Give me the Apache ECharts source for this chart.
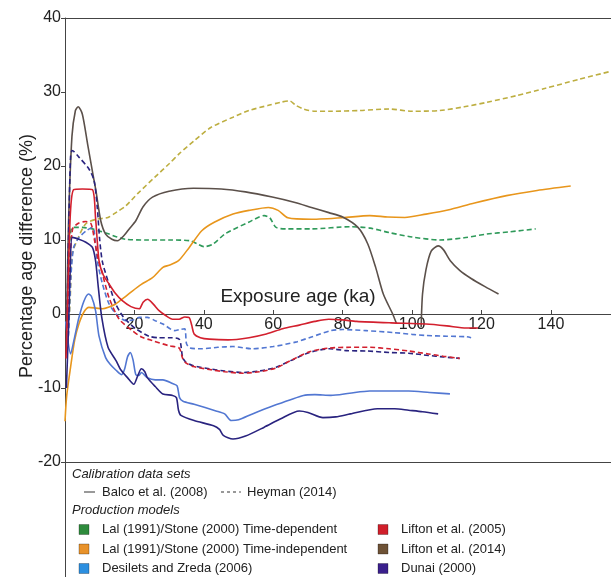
<!DOCTYPE html>
<html>
<head>
<meta charset="utf-8">
<script src="https://cdn.jsdelivr.net/npm/echarts@6/dist/echarts.min.js"></script>
<style>html,body{margin:0;padding:0;background:#fff}#c{width:611px;height:577px}</style>
</head>
<body>
<div id="c"></div>
<script>
// ---- data (x = exposure age ka, y = percentage age difference %) ----
var xTicks = [20, 40, 60, 80, 100, 120, 140];
var yTicks = [-20, -10, 0, 10, 20, 30, 40];

// Balco et al. (2008) - solid
var lifton2014Balco = [[0.4,-3],[1,12],[2,24],[3,27.5],[3.8,28],[5,27],[6.5,23],[8,19],[8.9,16.7],[10.3,12.6],[11.7,10.8],[13.5,10.1],[15.1,9.9],[17,10.6],[18.5,11.5],[20.4,12.6],[22.5,14.5],[25.2,15.8],[30,16.6],[37,17.0],[45,16.9],[52,16.5],[59.7,15.8],[66,15.1],[71,14.4],[76,13.7],[80,13.1],[84.4,11.7],[87.2,9.5],[89.5,6.3],[91.7,2.7],[94.4,0],[95.5,-1.3],[99,'-'],[102.6,-1.8],[103,2.7],[104,6],[105.5,8.5],[107.5,9.2],[109,8.7],[111,7.2],[113.7,5.9],[117,4.8],[121,3.7],[124.9,2.7]];
var lifton2005Balco = [[0.3,-6],[1,6],[1.6,14],[2.5,16.8],[5,16.9],[7.9,16.8],[8.8,13],[9.8,7.2],[11,5.3],[12.7,4.05],[14.5,2.8],[16.5,1.8],[19,1.0],[21.4,0.7],[22.5,1.6],[23.8,2.0],[25.5,1.3],[27.1,0.45],[29,-0.2],[31,-0.7],[32.9,-0.7],[34.5,-0.4],[35.8,-0.5],[36.5,-1.5],[37.2,-2.7],[39,-3.2],[41.6,-3.4],[47,-3.5],[53,-3.2],[58,-2.7],[62.7,-2.0],[67.5,-1.5],[72,-1.0],[76,-0.7],[80,-0.8],[84,-1.0],[94,-1.2],[104,-1.35],[110,-1.6],[115.6,-1.9],[119,-1.9]];
var lalIndepBalco = [[0,-14.5],[0.5,-11],[1.6,-7.2],[2.8,-3.5],[4,-1.35],[5.5,0.3],[6.9,0.9],[9,0.8],[10.8,0.7],[12.5,0.9],[14.6,1.35],[17,2.2],[19.4,3.1],[22,4],[25.2,4.9],[28.2,6.3],[30,6.6],[32.7,7.2],[35.8,9],[39.4,11.25],[43,12.4],[48.4,13.5],[53,14.0],[58.6,14.4],[61.4,14.0],[64.2,13.0],[71,12.8],[80,13.0],[87.8,13.3],[93,13.1],[97.9,13.05],[104,13.5],[110.3,14.05],[118,15],[127.2,16.0],[136,16.7],[145.7,17.3]];
var desiletsBalco = [[0.2,-1],[0.8,-3.5],[1.6,-5.4],[2.6,-3.5],[4,-0.5],[5.5,1.8],[6.8,2.7],[7.6,2.4],[8.8,0.45],[9.8,-3.0],[11.7,-5.9],[13,-6.8],[14.7,-7.6],[16.3,-8.2],[17.2,-7.4],[18,-5.8],[18.8,-5.2],[19.6,-6.2],[20.4,-8.2],[21.3,-8.3],[22,-7.9],[23.7,-8.6],[26,-8.9],[28.2,-8.9],[31,-9.4],[32.3,-9.7],[33,-11.3],[34,-11.8],[37.2,-12.2],[43.5,-13.1],[46,-13.5],[47.9,-14.4],[50,-14.3],[54,-13.5],[60,-12.4],[68.7,-11.0],[72,-10.9],[76.6,-11.0],[82,-10.7],[87.8,-10.4],[99,-10.4],[105,-10.6],[110.9,-10.8]];
var dunaiBalco = [[0.4,-10],[1,-2],[1.5,6],[2.1,10.35],[4,10.1],[6,9.7],[7.9,9.0],[8.8,7.2],[9.6,3.6],[10.6,-0.5],[12.4,-4.5],[14.7,-6.3],[16,-7.5],[18,-8.6],[19.8,-9.5],[21,-8.3],[22,-7.4],[23,-7.8],[23.7,-8.6],[26,-9.8],[28.2,-10.8],[31,-11.0],[32.1,-11.3],[32.7,-13.0],[33.4,-13.7],[37.2,-14.4],[42.8,-15.1],[44.5,-15.6],[45.6,-16.4],[48.4,-16.9],[52,-16.5],[57.4,-15.3],[62,-14.2],[67.5,-13.1],[70,-13.3],[74.3,-14.0],[78,-13.9],[82.2,-13.5],[90,-12.8],[95,-12.8],[99,-13.0],[103,-13.2],[107.5,-13.5]];

// Heyman (2014) - dashed
var lalDepHeyman = [[0.5,-1],[1.2,8],[2.1,11.7],[5,11.7],[7.9,11.5],[10,11.2],[12.7,10.8],[15,10.4],[17.5,10.1],[23,10.0],[30,10.0],[36,9.9],[38,9.5],[40,9.1],[42.5,9.4],[46.2,10.85],[52.9,12.4],[57.4,13.3],[59,13.0],[60.8,11.7],[64,11.5],[71,11.5],[82.2,11.8],[88,11.6],[93.4,11.0],[100,10.4],[108,10.0],[115,10.3],[121.5,10.8],[128,11.1],[135.6,11.5]];
var lalIndepHeyman = [[0.8,-4],[1.5,2],[2.1,8.1],[4,10.5],[6,12.2],[9,12.8],[12.4,13.05],[15,13.8],[17.5,14.6],[21,16.3],[25.9,18.5],[30,20.3],[33,21.7],[37.2,23.4],[42,25.2],[48.4,26.6],[53,27.5],[58.6,28.2],[62,28.6],[64.7,28.8],[66.5,28.2],[68.7,27.7],[72,27.4],[76.6,27.4],[85,27.5],[93.4,27.7],[100,27.4],[108,27.5],[115,28.0],[121.5,28.6],[130,29.5],[138.4,30.5],[148,31.7],[157.3,32.8]];
var dunaiHeyman = [[0.5,-3],[1.1,12],[1.6,21.2],[2.1,22.1],[4,21.2],[6.9,19.6],[8.4,18],[9.3,14.4],[10,10],[10.8,7],[12.7,4],[14.6,1.35],[16.5,-0.2],[18,-1],[20.4,-2],[24.2,-3.0],[27,-3.2],[30,-3.2],[32.9,-3.4],[33.9,-5.9],[34.8,-6.5],[37,-7.0],[41.6,-7.4],[46,-7.7],[51.2,-7.9],[56,-7.7],[60.8,-7.2],[65,-6.3],[70.4,-5.2],[76.2,-4.7],[81,-4.95],[87,-5.0],[93.4,-5.2],[99,-5.3],[104.7,-5.6],[109,-5.8],[113.7,-6.0]];
var lifton2005Heyman = [[0.8,-3],[1.4,6],[2.2,11.5],[4,12.3],[6,12.5],[7.5,12.2],[8.5,10],[9.5,7.5],[10.8,5.4],[12.7,2.2],[15.6,-0.7],[19.4,-2.25],[22,-3.1],[25.2,-3.6],[30,-4.3],[32.9,-4.6],[33.9,-6.0],[34.8,-6.6],[37,-7.1],[41.6,-7.5],[46,-7.8],[51.2,-8.0],[56,-7.8],[60.8,-7.3],[65,-6.3],[70.4,-5.1],[76.2,-4.6],[82.2,-4.5],[88,-4.5],[93.4,-4.7],[99,-5.0],[104.7,-5.4],[109,-5.7],[113.7,-6.0]];
var desiletsHeyman = [[1,-3],[1.7,5],[2.5,9],[4,10.3],[6,11.2],[7.9,11.7],[8.4,11.25],[9.3,7.2],[10.8,4.05],[12.7,1.35],[15.1,-0.2],[17.5,-0.9],[19.5,-0.8],[21.4,-0.45],[23.7,-0.45],[26,-0.9],[28.2,-1.35],[31.6,-2.25],[33,-2.1],[34.5,-2.0],[35,-4.0],[36,-4.6],[39.4,-4.7],[44,-4.5],[48.4,-4.4],[54,-4.7],[60,-4.4],[66.4,-3.8],[71,-3.1],[76.6,-2.25],[80,-2.1],[86.8,-2.25],[94.5,-2.5],[100,-2.75],[104,-2.9],[110,-3.0],[115.6,-3.07],[117,-3.2]];

var calibrationSets = ['Balco et al. (2008)', 'Heyman (2014)'];
var productionModels = ['Lal (1991)/Stone (2000) Time-dependent', 'Lal (1991)/Stone (2000) Time-independent', 'Desilets and Zreda (2006)', 'Lifton et al. (2005)', 'Lifton et al. (2014)', 'Dunai (2000)'];
var modelSquareColors = ['#2e8b3c', '#e8922a', '#2c8fe0', '#d01f2a', '#6e5236', '#3a1f8c'];

// ---- styles ----
var C = {brown:'#5b504a', red:'#d3202e', orange:'#e8961c', green:'#2f9a5a', olive:'#bdae40', navy:'#29237f', blue:'#5277d2'};
var FONT = 'Liberation Sans, Arial, sans-serif';

function line(name, data, color, dashed, z) {
  return {
    name: name, type: 'line', data: data, showSymbol: false, smooth: 0.25,
    connectNulls: false, z: z || 2,
    lineStyle: {color: color, width: 1.6, type: dashed ? [5, 3] : 'solid'},
    emphasis: {disabled: true}
  };
}

var chart = echarts.init(document.getElementById('c'), null, {renderer: 'canvas'});

var axisCol = '#444';
var xMax = 157.3;
var G = {left:65, right:0, top:18, bottom:115};
var gridH = 577 - G.top - G.bottom;
var yMin = yTicks[0], yMax = yTicks[yTicks.length - 1];
var zeroOffset = -gridH * (0 - yMin) / (yMax - yMin);

var graphics = [];
// y-axis line continues down through legend panel
graphics.push({type:'line', shape:{x1:65.5, y1:461, x2:65.5, y2:577}, style:{stroke:axisCol, lineWidth:1}, silent:true});
// axis titles
graphics.push({type:'text', x:298, y:297, style:{text:'Exposure age (ka)', font:'19px ' + FONT, fill:'#222', textAlign:'center', textVerticalAlign:'middle'}});
graphics.push({type:'text', x:27, y:256, rotation:Math.PI/2, style:{text:'Percentage age difference (%)', font:'18px ' + FONT, fill:'#222', textAlign:'center', textVerticalAlign:'middle'}});
// legend
var lf = '13px ' + FONT;
graphics.push({type:'text', x:72, y:474, style:{text:'Calibration data sets', font:'italic ' + lf, fill:'#222', textVerticalAlign:'middle'}});
graphics.push({type:'line', shape:{x1:84, y1:492, x2:95, y2:492}, style:{stroke:'#555', lineWidth:1.2}});
graphics.push({type:'text', x:102, y:492, style:{text:calibrationSets[0], font:lf, fill:'#222', textVerticalAlign:'middle'}});
graphics.push({type:'line', shape:{x1:221, y1:492, x2:241, y2:492}, style:{stroke:'#555', lineWidth:1.2, lineDash:[3,3]}});
graphics.push({type:'text', x:247, y:492, style:{text:calibrationSets[1], font:lf, fill:'#222', textVerticalAlign:'middle'}});
graphics.push({type:'text', x:72, y:510, style:{text:'Production models', font:'italic ' + lf, fill:'#222', textVerticalAlign:'middle'}});
var rowsY = [529.5, 549, 568.5];
for (var i = 0; i < productionModels.length; i++) {
  var col = i < 3 ? 0 : 1, row = i % 3;
  var sx = col === 0 ? 79 : 378, tx = col === 0 ? 102 : 401;
  graphics.push({type:'rect', shape:{x:sx, y:rowsY[row]-5, width:10, height:10}, style:{fill:modelSquareColors[i], stroke:'rgba(0,0,0,0.35)', lineWidth:0.8}});
  graphics.push({type:'text', x:tx, y:rowsY[row], style:{text:productionModels[i], font:lf, fill:'#222', textVerticalAlign:'middle'}});
}

var baseX = {type:'value', min:0, max:xMax, interval:20, splitLine:{show:false}};

chart.setOption({
  animation: false,
  backgroundColor: '#fff',
  grid: {left:G.left, right:G.right, top:G.top, bottom:G.bottom, containLabel:false},
  xAxis: [
    Object.assign({}, baseX, {
      position:'bottom', offset: zeroOffset,
      axisLine:{onZero:false, lineStyle:{color:axisCol, width:1}},
      axisTick:{inside:true, length:4, lineStyle:{color:axisCol}},
      axisLabel:{fontSize:16, color:'#222', margin:3, fontFamily:FONT, showMinLabel:false, showMaxLabel:false,
        formatter:function(v){ return xTicks.indexOf(v) >= 0 ? String(v) : ''; }}
    }),
    Object.assign({}, baseX, {position:'top', axisLine:{onZero:false, lineStyle:{color:axisCol, width:1}}, axisTick:{show:false}, axisLabel:{show:false}}),
    Object.assign({}, baseX, {position:'bottom', offset:0, axisLine:{onZero:false, lineStyle:{color:axisCol, width:1}}, axisTick:{show:false}, axisLabel:{show:false}})
  ],
  yAxis: {
    type:'value', min:yMin, max:yMax, interval:10,
    axisLine:{show:true, onZero:false, lineStyle:{color:axisCol, width:1}},
    axisTick:{show:true, inside:false, length:4, lineStyle:{color:axisCol}},
    axisLabel:{fontSize:16, color:'#222', margin:4, fontFamily:FONT},
    splitLine:{show:false}
  },
  series: [
    line('Lal time-dependent (Heyman)', lalDepHeyman, C.green, true),
    line('Lal time-independent (Heyman)', lalIndepHeyman, C.olive, true),
    line('Lal time-independent (Balco)', lalIndepBalco, C.orange, false),
    line('Lifton 2014 (Balco)', lifton2014Balco, C.brown, false),
    line('Desilets (Heyman)', desiletsHeyman, C.blue, true),
    line('Dunai (Heyman)', dunaiHeyman, C.navy, true),
    line('Lifton 2005 (Heyman)', lifton2005Heyman, C.red, true),
    line('Desilets (Balco)', desiletsBalco, C.blue, false),
    line('Dunai (Balco)', dunaiBalco, C.navy, false),
    line('Lifton 2005 (Balco)', lifton2005Balco, C.red, false)
  ],
  graphic: graphics
});
</script>
</body>
</html>
